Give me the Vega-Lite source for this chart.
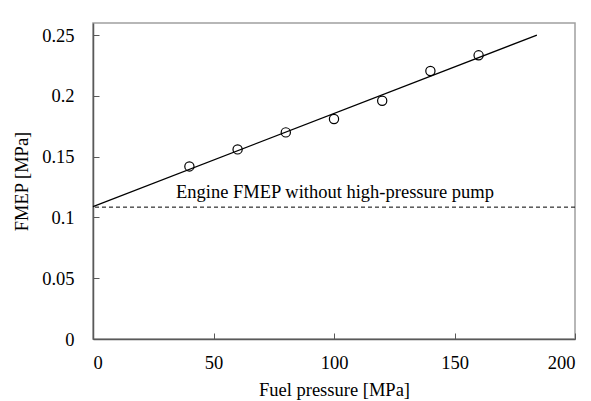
{
  "$schema": "https://vega.github.io/schema/vega-lite/v6.json",
  "autosize": {"type": "none"},
  "width": 482,
  "height": 316,
  "padding": {"left": 93, "top": 23, "right": 16, "bottom": 62},
  "background": "white",
  "config": {
    "font": "Liberation Serif",
    "view": {"stroke": "#a0a0a0", "strokeWidth": 1.5},
    "axis": {
      "grid": false,
      "domainColor": "#595959",
      "domainWidth": 1.5,
      "tickColor": "#595959",
      "tickSize": -6,
      "tickWidth": 1,
      "labelFont": "Liberation Serif",
      "labelFontSize": 18.5,
      "labelColor": "#000000",
      "titleFont": "Liberation Serif",
      "titleFontSize": 18.5,
      "titleFontWeight": "normal",
      "titleColor": "#000000"
    }
  },
  "layer": [
    {
      "data": {"values": [
        {"x": 40, "y": 0.142},
        {"x": 60, "y": 0.156},
        {"x": 80, "y": 0.170},
        {"x": 100, "y": 0.181},
        {"x": 120, "y": 0.196},
        {"x": 140, "y": 0.2205},
        {"x": 160, "y": 0.2334}
      ]},
      "mark": {"type": "point", "shape": "circle", "filled": false, "stroke": "#000000", "strokeWidth": 1.2, "size": 85, "opacity": 1},
      "encoding": {
        "x": {"field": "x", "type": "quantitative", "scale": {"domain": [0, 200]}, "axis": {"title": "Fuel pressure [MPa]", "values": [0, 50, 100, 150, 200], "format": "d", "labelPadding": 20, "titlePadding": 9}},
        "y": {"field": "y", "type": "quantitative", "scale": {"domain": [0, 0.25]}, "axis": {"title": "FMEP [MPa]", "values": [0, 0.05, 0.1, 0.15, 0.2, 0.25], "format": "~g", "labelPadding": 25, "titlePadding": 10}}
      }
    },
    {
      "data": {"values": [
        {"x": 0, "y": 0.109},
        {"x": 184.2, "y": 0.25}
      ]},
      "mark": {"type": "line", "color": "#000000", "strokeWidth": 1.3},
      "encoding": {
        "x": {"field": "x", "type": "quantitative"},
        "y": {"field": "y", "type": "quantitative"}
      }
    },
    {
      "data": {"values": [{"y": 0.1085}]},
      "mark": {"type": "rule", "color": "#000000", "strokeWidth": 1, "strokeDash": [4, 3]},
      "encoding": {
        "y": {"field": "y", "type": "quantitative"}
      }
    },
    {
      "data": {"values": [{"x": 100.4, "y": 0.1163, "label": "Engine FMEP without high-pressure pump"}]},
      "mark": {"type": "text", "font": "Liberation Serif", "fontSize": 18.5, "color": "#000000", "align": "center", "baseline": "alphabetic"},
      "encoding": {
        "x": {"field": "x", "type": "quantitative"},
        "y": {"field": "y", "type": "quantitative"},
        "text": {"field": "label"}
      }
    }
  ]
}
